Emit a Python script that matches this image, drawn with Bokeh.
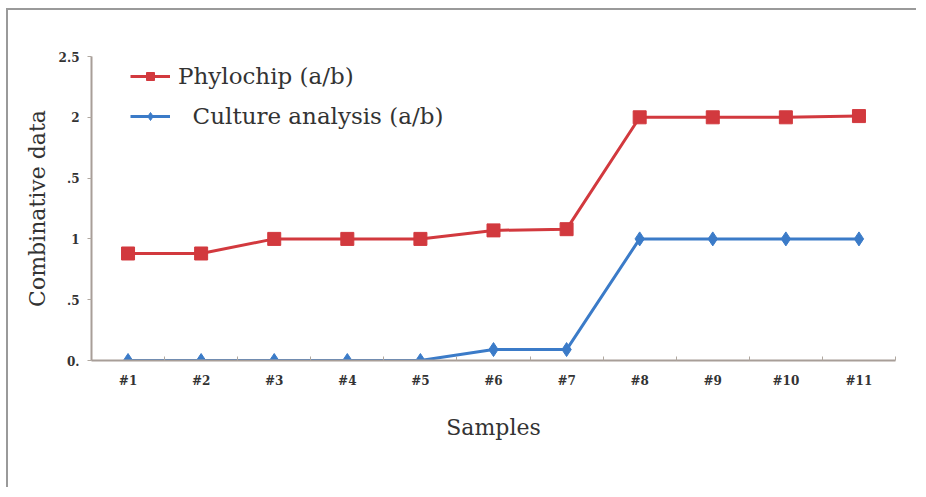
from bokeh.plotting import figure
from bokeh.models import FixedTicker, Legend, LegendItem, Range1d
from bokeh.embed import file_html
from bokeh.resources import INLINE

samples = ["#1", "#2", "#3", "#4", "#5", "#6", "#7", "#8", "#9", "#10", "#11"]
phylochip = [0.88, 0.88, 1.0, 1.0, 1.0, 1.07, 1.08, 2.0, 2.0, 2.0, 2.01]
culture = [0.0, 0.0, 0.0, 0.0, 0.0, 0.09, 0.09, 1.0, 1.0, 1.0, 1.0]
y_ticks = [0, 0.5, 1, 1.5, 2, 2.5]
y_tick_labels = ["0.", ".5", "1", ".5", "2", "2.5"]

xs = list(range(1, len(samples) + 1))
RED = "#d2393e"
BLUE = "#3b7bc8"
FONT = "DejaVu Serif"

p = figure(width=910, height=479, output_backend="svg", toolbar_location=None,
           x_range=Range1d(0.5, 11.5), y_range=Range1d(0, 2.5),
           min_border_left=83, min_border_right=23, min_border_top=46, min_border_bottom=129)
p.styles = {"border-top": "2px solid #9a9a9a", "border-left": "2px solid #9a9a9a",
            "margin-left": "6px", "margin-top": "8px"}
p.outline_line_color = None
p.xgrid.grid_line_color = None
p.ygrid.grid_line_color = None
p.background_fill_color = "white"

l1 = p.line(xs, phylochip, line_color=RED, line_width=3)
m1 = p.scatter(xs, phylochip, marker="square", size=13, fill_color=RED, line_color=RED)
l2 = p.line(xs, culture, line_color=BLUE, line_width=3)
m2 = p.scatter(xs, culture, marker="diamond", size=14, fill_color=BLUE, line_color=BLUE)

# x axis
p.xaxis.ticker = FixedTicker(ticks=xs, minor_ticks=[i + 0.5 for i in range(0, 12)])
p.xaxis.major_label_overrides = {x: s for x, s in zip(xs, samples)}
p.xaxis.major_tick_line_color = None
p.xaxis.major_tick_in = 0
p.xaxis.major_tick_out = 0
p.xaxis.minor_tick_in = 4
p.xaxis.minor_tick_out = 0
p.xaxis.minor_tick_line_color = "#b0a8a0"
p.xaxis.axis_line_color = "#a89e98"
p.xaxis.axis_line_width = 2
p.xaxis.major_label_standoff = 13
p.xaxis.major_label_text_font = FONT
p.xaxis.major_label_text_font_style = "bold"
p.xaxis.major_label_text_font_size = "12px"
p.xaxis.major_label_text_color = "#333333"
p.xaxis.axis_label = "Samples"
p.xaxis.axis_label_text_font = FONT
p.xaxis.axis_label_text_font_style = "normal"
p.xaxis.axis_label_text_font_size = "22px"
p.xaxis.axis_label_text_color = "#333333"
p.xaxis.axis_label_standoff = 24

# y axis
p.yaxis.ticker = FixedTicker(ticks=y_ticks)
p.yaxis.major_label_overrides = {t: s for t, s in zip(y_ticks, y_tick_labels)}
p.yaxis.minor_tick_line_color = None
p.yaxis.major_tick_in = 0
p.yaxis.major_tick_out = 4
p.yaxis.major_tick_line_color = "#b0a8a0"
p.yaxis.axis_line_color = "#a89e98"
p.yaxis.axis_line_width = 2
p.yaxis.major_label_standoff = 8
p.yaxis.major_label_text_font = FONT
p.yaxis.major_label_text_font_style = "bold"
p.yaxis.major_label_text_font_size = "12px"
p.yaxis.major_label_text_color = "#333333"
p.yaxis.axis_label = "Combinative data"
p.yaxis.axis_label_text_font = FONT
p.yaxis.axis_label_text_font_style = "normal"
p.yaxis.axis_label_text_font_size = "22px"
p.yaxis.axis_label_text_color = "#333333"
p.yaxis.axis_label_standoff = 6

legend = Legend(items=[LegendItem(label="Phylochip (a/b)", renderers=[l1, m1]),
                       LegendItem(label="  Culture analysis (a/b)", renderers=[l2, m2])],
                location=(39, 231), border_line_color=None, background_fill_alpha=0,
                padding=0, margin=0, spacing=14, glyph_width=40, glyph_height=20,
                label_height=20, label_standoff=8,
                label_text_font=FONT, label_text_font_size="23px", label_text_color="#333333")
p.add_layout(legend)

open("out.html", "w").write(file_html(p, INLINE))
